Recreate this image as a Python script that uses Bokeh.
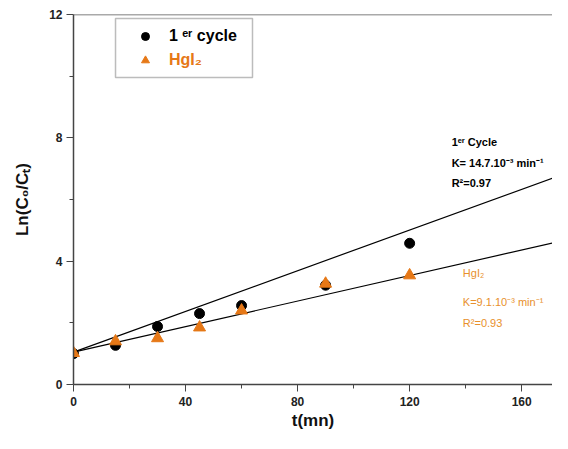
from bokeh.plotting import figure
from bokeh.models import ColumnDataSource, Legend, LegendItem, Label, Span, BoxAnnotation, FixedTicker
from bokeh.embed import file_html
from bokeh.resources import INLINE

# ---- data ----
t_cycle = [0, 15, 30, 45, 60, 90, 120]
ln_cycle = [1.0, 1.27, 1.88, 2.3, 2.56, 3.22, 4.58]
t_hgi2 = [0, 15, 30, 45, 60, 90, 120]
ln_hgi2 = [1.02, 1.4, 1.5, 1.85, 2.4, 3.27, 3.54]

fit_names = ["cycle", "hgi2"]
fit_intercept = [1.05, 1.05]
fit_slope = [0.0330, 0.0207]

x_ticks = [0, 40, 80, 120, 160]
y_ticks = [0, 4, 8, 12]
x_minor = [20, 60, 100, 140]
y_minor = [2, 6, 10]

ORANGE = "#E67817"
ORANGE_TXT = "#E8902C"

X_MAX = 171
p = figure(width=552, height=433, x_range=(0, X_MAX), y_range=(0, 12),
           output_backend="svg", toolbar_location=None,
           min_border_left=73, min_border_right=0, min_border_top=14, min_border_bottom=49)
p.background_fill_color = "white"
p.outline_line_color = None
p.xgrid.visible = False
p.ygrid.visible = False

# top border
p.add_layout(Span(location=12, dimension="width", line_color="#555555", line_width=1.5))

# fit lines
for b, m in zip(fit_intercept, fit_slope):
    xs = [0, X_MAX]
    ys = [b + m * x for x in xs]
    p.line(xs, ys, line_color="black", line_width=1.2)

r_c = p.scatter(t_cycle, ln_cycle, marker="circle", size=10, fill_color="black", line_color="black")
r_h = p.scatter(t_hgi2, ln_hgi2, marker="triangle", size=12, fill_color=ORANGE, line_color=ORANGE)

# axes
for ax in (p.xaxis[0], p.yaxis[0]):
    ax.axis_line_color = "#444444"
    ax.axis_line_width = 1.5
    ax.major_tick_line_color = "#444444"
    ax.minor_tick_line_color = "#444444"
    ax.major_tick_out = 7
    ax.major_tick_in = 0
    ax.minor_tick_out = 4
    ax.minor_tick_in = 0
    ax.major_label_text_font = "Liberation Sans"
    ax.major_label_text_font_style = "bold"
    ax.major_label_text_font_size = "12px"
    ax.major_label_text_color = "#222222"
    ax.axis_label_text_font = "Liberation Sans"
    ax.axis_label_text_font_style = "bold"
    ax.axis_label_text_font_size = "17px"
    ax.axis_label_text_color = "#111111"

p.xaxis[0].ticker = FixedTicker(ticks=x_ticks, minor_ticks=x_minor)
p.yaxis[0].ticker = FixedTicker(ticks=y_ticks, minor_ticks=y_minor)
p.xaxis[0].axis_label = "t(mn)"
p.yaxis[0].axis_label = "Ln(C₀/Cₜ)"
p.xaxis[0].major_label_standoff = 5
p.yaxis[0].major_label_standoff = 4
p.xaxis[0].axis_label_standoff = 2
p.yaxis[0].axis_label_standoff = 14

# legend box
p.add_layout(BoxAnnotation(left=15, right=63.9, bottom=9.96, top=11.87,
                           fill_color="white", fill_alpha=1.0,
                           line_color="#222222", line_width=1.5))

def mk_legend(item, loc, color):
    lg = Legend(items=[item], location=loc, orientation="vertical",
                padding=0, margin=0, spacing=0, border_line_color=None,
                background_fill_alpha=0, glyph_width=20, glyph_height=24,
                label_height=24, label_standoff=14,
                label_text_font="Liberation Sans", label_text_font_style="bold",
                label_text_font_size="16px", label_text_color=color)
    return lg

p.add_layout(mk_legend(LegendItem(label="1 ᵉʳ cycle", renderers=[r_c]), (62, 336), "black"))
p.add_layout(mk_legend(LegendItem(label="HgI₂", renderers=[r_h]), (62, 312), ORANGE))

# annotations
black_txt = ["1ᵉʳ Cycle", "K= 14.7.10⁻³ min⁻¹", "R²=0.97"]
black_y = [7.85, 7.2, 6.55]
orange_txt = ["HgI₂", "K=9.1.10⁻³ min⁻¹", "R²=0.93"]
orange_y = [3.63, 2.66, 2.01]
for s, y in zip(black_txt, black_y):
    p.add_layout(Label(x=135, y=y, text=s, text_font="Liberation Sans",
                       text_font_size="11px", text_font_style="bold",
                       text_color="black", text_baseline="middle"))
for s, y in zip(orange_txt, orange_y):
    p.add_layout(Label(x=139, y=y, text=s, text_font="Liberation Sans",
                       text_font_size="11px", text_font_style="normal",
                       text_color=ORANGE_TXT, text_baseline="middle"))

open("out.html", "w").write(file_html(p, INLINE))
